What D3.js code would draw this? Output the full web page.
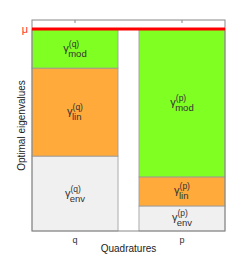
<!DOCTYPE html>
<html>
<head>
<meta charset="utf-8">
<script src="https://cdn.jsdelivr.net/npm/d3@7"></script>
<style>
  body { margin: 0; background: #fff; }
  text { font-family: "Liberation Sans", Arial, sans-serif; }
</style>
</head>
<body>
<div id="chart"></div>
<script>
const quadratures = ["q", "p"];
const components  = ["env", "lin", "mod"];
const qValues = [0.371, 0.436, 0.193];
const pValues = [0.124, 0.144, 0.732];
const mu = 1.0;
const yMax = 1.045;

const colors = { env: "#f0f0f0", lin: "#ffaa3a", mod: "#80ff22" };

const width = 249, height = 261;
const margin = { top: 20, right: 24, bottom: 30, left: 32 };
const innerWidth  = width  - margin.left - margin.right;
const innerHeight = height - margin.top  - margin.bottom;

const svg = d3.select("#chart").append("svg")
    .attr("width", width)
    .attr("height", height);

const g = svg.append("g")
    .attr("transform", `translate(${margin.left},${margin.top})`);

const x = d3.scaleBand()
    .domain(quadratures)
    .range([0, innerWidth])
    .paddingInner(0.196)
    .paddingOuter(0);

const y = d3.scaleLinear()
    .domain([0, yMax])
    .range([innerHeight, 0]);

const series = { q: qValues, p: pValues };
const stacked = [];
quadratures.forEach(k => {
  let acc = 0;
  series[k].forEach((v, i) => {
    stacked.push({ quad: k, comp: components[i], y0: acc, y1: acc + v });
    acc += v;
  });
});

g.append("g")
  .selectAll("rect")
  .data(stacked)
  .join("rect")
    .attr("x", d => x(d.quad))
    .attr("width", x.bandwidth())
    .attr("y", d => y(d.y1))
    .attr("height", d => y(d.y0) - y(d.y1))
    .attr("fill", d => colors[d.comp])
    .attr("stroke", "#999")
    .attr("stroke-width", 0.8);

const labels = g.append("g")
  .selectAll("text")
  .data(stacked)
  .join("text")
    .attr("text-anchor", "middle")
    .attr("fill", "#333")
    .attr("font-size", 11)
    .attr("x", d => x(d.quad) + x.bandwidth() / 2)
    .attr("y", d => (y(d.y0) + y(d.y1)) / 2 + 3);

labels.append("tspan").text("γ");
labels.append("tspan")
    .attr("font-size", 8.5)
    .attr("dy", -5)
    .text(d => `(${d.quad})`);
labels.append("tspan")
    .attr("font-size", 9.5)
    .attr("dx", -11)
    .attr("dy", 10)
    .text(d => d.comp);

// frame
g.append("rect")
    .attr("width", innerWidth)
    .attr("height", innerHeight)
    .attr("fill", "none")
    .attr("stroke", "#888")
    .attr("stroke-width", 1);

// mu line
g.append("line")
    .attr("x1", 0)
    .attr("x2", innerWidth)
    .attr("y1", y(mu))
    .attr("y2", y(mu))
    .attr("stroke", "#ff0000")
    .attr("stroke-width", 3);

g.append("text")
    .attr("x", -4)
    .attr("y", y(mu) + 4)
    .attr("text-anchor", "end")
    .attr("fill", "#ff3333")
    .attr("font-size", 11)
    .text("μ");

const xAxis = d3.axisBottom(x).tickSize(0).tickPadding(6);
g.append("g")
    .attr("transform", `translate(0,${innerHeight})`)
    .call(xAxis)
    .call(a => a.select(".domain").remove())
    .call(a => a.selectAll("text").attr("fill", "#333").attr("font-size", 9)
      .style("font-family", "Liberation Sans, Arial, sans-serif"));

// small top ticks
g.append("g")
  .selectAll("line")
  .data(quadratures)
  .join("line")
    .attr("x1", d => x(d) + x.bandwidth() / 2)
    .attr("x2", d => x(d) + x.bandwidth() / 2)
    .attr("y1", 0)
    .attr("y2", 3)
    .attr("stroke", "#888");

g.append("text")
    .attr("x", innerWidth / 2)
    .attr("y", innerHeight + 21)
    .attr("text-anchor", "middle")
    .attr("fill", "#222")
    .attr("font-size", 10)
    .text("Quadratures");

g.append("text")
    .attr("transform", "rotate(-90)")
    .attr("x", -innerHeight / 2)
    .attr("y", -7)
    .attr("text-anchor", "middle")
    .attr("fill", "#222")
    .attr("font-size", 10)
    .text("Optimal eigenvalues");
</script>
</body>
</html>
